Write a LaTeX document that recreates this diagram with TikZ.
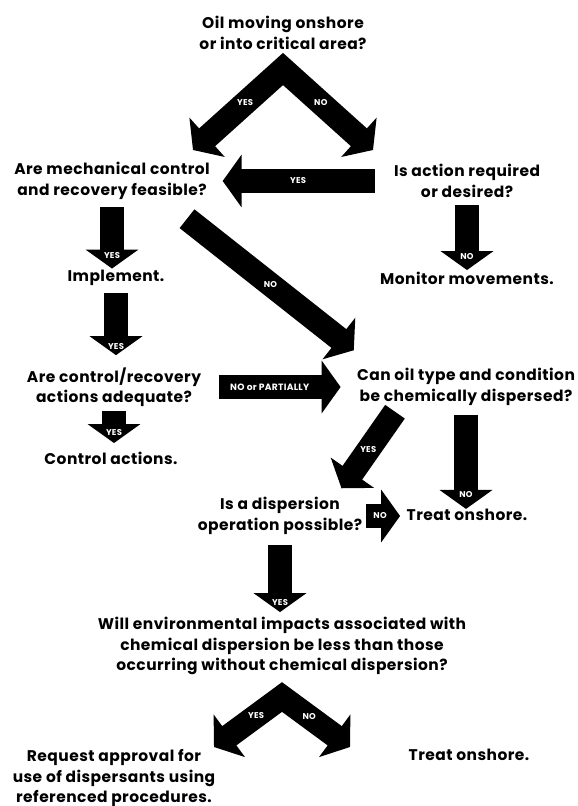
\documentclass[tikz,border=0pt]{standalone}
\usepackage{fontspec}
\setmainfont{Poppins}[LetterSpace=3]
\usepackage{tikz}
\usepackage{xcolor}
\usetikzlibrary{positioning, arrows.meta, calc}

\begin{document}
\begin{tikzpicture}[x=0.025cm, y=-0.025cm,
        txt/.style={align=center, inner sep=0pt, font=\bfseries\fontsize{11}{14.5}\selectfont},
        blk/.style={line width=17pt, line join=miter, -{Triangle[width=37pt, length=13.5pt]}},
        lbl/.style={text=white, inner sep=0pt, font=\bfseries\fontsize{6}{7}\selectfont}]
            \useasboundingbox (0, 0) rectangle (577, 806);

            \node[txt] (q1) at (283, 33) {Oil moving onshore\\or into critical area?};
            \node[txt] (q2) at (112, 181) {Are mechanical control\\and recovery feasible?};
            \node[txt] (q3) at (467, 181) {Is action required\\or desired?};
            \node[txt] (impl) at (116, 278) {Implement.};
            \node[txt] (mon) at (467, 278) {Monitor movements.};
            \node[txt] (q4) at (114, 387) {Are control/recovery\\actions adequate?};
            \node[txt] (q5) at (466, 387) {Can oil type and condition\\be chemically dispersed?};
            \node[txt] (ctl) at (111, 458) {Control actions.};
            \node[txt] (q6) at (280, 516) {Is a dispersion\\operation possible?};
            \node[txt] (tr1) at (467, 515) {Treat onshore.};
            \node[txt] (q7) at (282, 646) {Will environmental impacts associated with\\chemical dispersion be less than those\\occurring without chemical dispersion?};
            \node[txt] (req) at (114, 778) {Request approval for\\use of dispersants using\\referenced procedures.};
            \node[txt] (tr2) at (469, 755) {Treat onshore.};

            \coordinate (a1) at (283, 69);
            \coordinate (a1l) at (193, 150);
            \coordinate (a1r) at (373, 150);
            \coordinate (a2) at (282, 697);
            \coordinate (a2l) at (214, 747);
            \coordinate (a2r) at (350, 747);

            \draw[blk, {Triangle[width=37pt, length=13.5pt]}-{Triangle[width=37pt, length=13.5pt]}] (a1l) -- node[lbl, pos=0.58] (y1) {YES} (a1) -- node[lbl, pos=0.42] (n1) {NO} (a1r);
            \draw[blk, shorten <=13.5pt, shorten >=9pt] (q3.west) -- node[lbl, pos=0.52] (y2) {YES} (q2.east);
            \draw[blk, shorten <=5.5pt, shorten >=1pt] (q2.south) -- node[lbl, pos=0.8] (y3) {YES} (q2.south |- impl.north);
            \draw[blk, shorten <=5.5pt, shorten >=1pt] (q3.south) -- node[lbl, pos=0.8] (n2) {NO} (q3.south |- mon.north);
            \draw[blk] ($(q2.south east)+(-23, 19)$) -- node[lbl, pos=0.5] (n3) {NO} ($(q5.north west)+(-3, -18)$);
            \draw[blk, shorten <=5pt, shorten >=8.5pt] (impl.south) -- node[lbl, pos=0.74] (y4) {YES} (impl.south |- q4.north);
            \draw[blk, shorten <=12.5pt, shorten >=11.5pt] (q4.east) -- node[lbl, pos=0.44, font=\bfseries\fontsize{6.5}{7}\selectfont] (n4) {NO or PARTIALLY} (q5.west);
            \draw[blk, shorten <=3pt, shorten >=6pt] (q4.south) -- node[lbl, pos=0.57] (y5) {YES} (q4.south |- ctl.north);
            \draw[blk] ($(q5.south)+(-71, 6)$) -- node[lbl, pos=0.5] (y6) {YES} ($(q6.north east)+(-21, -9)$);
            \draw[blk, shorten <=2.5pt, shorten >=4.5pt] (q6.east) -- node[lbl, pos=0.4] (n6) {NO} (q6.east -| tr1.west);
            \draw[blk, shorten <=6.5pt] (q5.south) -- node[lbl, pos=0.86] (n5) {NO} (q5.south |- tr1.north);
            \draw[blk, shorten <=7pt, shorten >=3.5pt] (q6.south) -- node[lbl, pos=0.82] (y7) {YES} (q6.south |- q7.north);
            \draw[blk, {Triangle[width=37pt, length=13.5pt]}-{Triangle[width=37pt, length=13.5pt]}] (a2l) -- node[lbl, pos=0.62] (y8) {YES} (a2) -- node[lbl, pos=0.4] (n7) {NO} (a2r);
\end{tikzpicture}
\end{document}
